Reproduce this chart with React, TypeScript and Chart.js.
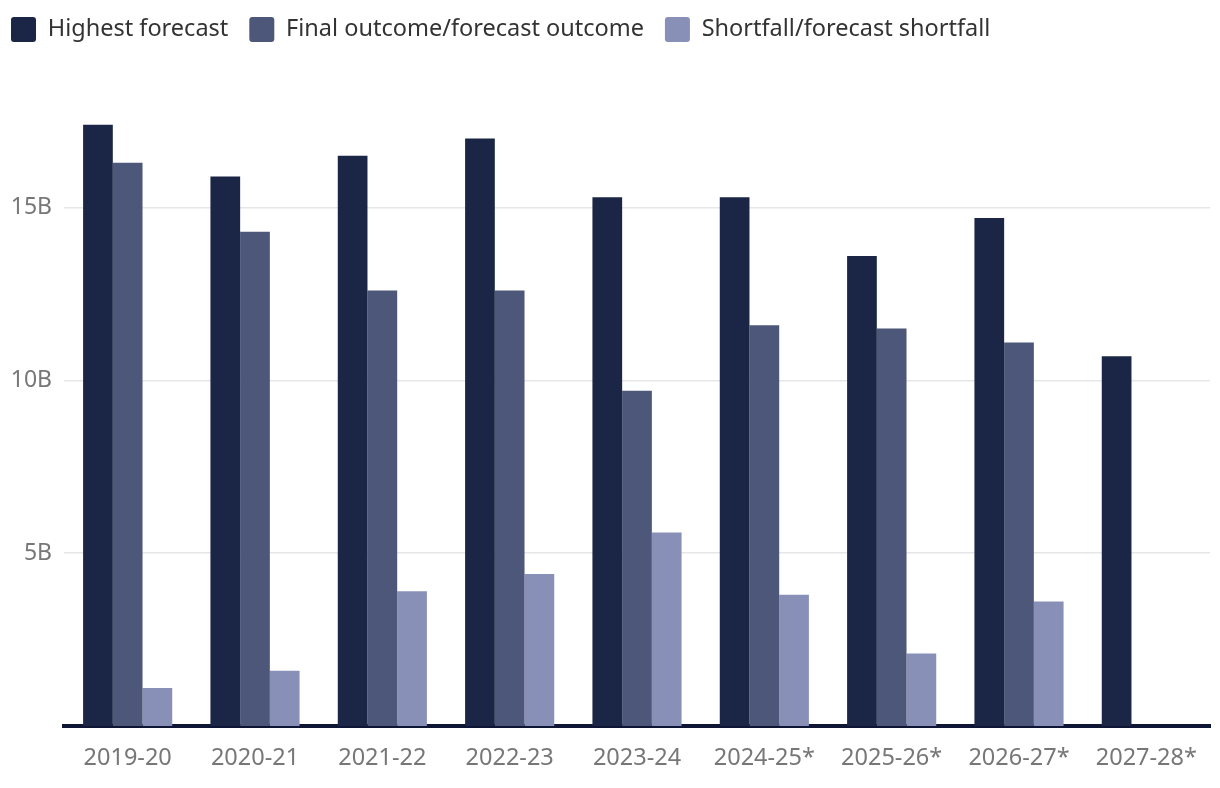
import React, { useEffect, useRef } from "react";
import { Chart, registerables } from "chart.js";

Chart.register(...registerables);

const categories = ["2019-20", "2020-21", "2021-22", "2022-23", "2023-24", "2024-25*", "2025-26*", "2026-27*", "2027-28*"];
const highestForecast = [17.4, 15.9, 16.5, 17.0, 15.3, 15.3, 13.6, 14.7, 10.7];
const finalOutcome = [16.3, 14.3, 12.6, 12.6, 9.7, 11.6, 11.5, 11.1, null];
const shortfall = [1.1, 1.6, 3.9, 4.4, 5.6, 3.8, 2.1, 3.6, null];
const yTicks = [5, 10, 15];

const FONT = "'Noto Sans', sans-serif";

export default function App() {
  const ref = useRef<HTMLCanvasElement>(null);
  useEffect(() => {
    document.body.style.margin = "0";
    const legendTweak = {
      id: "legendTweak",
      beforeInit(chart: any) {
        const lg = chart.legend;
        if (!lg) return;
        const fit = lg.fit;
        lg.fit = function () {
          fit.call(lg);
          lg.height = 104;
        };
        const draw = lg.draw;
        lg.draw = function () {
          const ctx = chart.ctx;
          ctx.save();
          ctx.translate(-10, -4);
          draw.call(lg);
          ctx.restore();
        };
      },
    };
    const chart = new Chart(ref.current!, {
      type: "bar",
      data: {
        labels: categories,
        datasets: [
          { label: "Highest forecast", data: highestForecast, backgroundColor: "#1b2646" },
          { label: "Final outcome/forecast outcome", data: finalOutcome as any, backgroundColor: "#4d5779" },
          { label: "Shortfall/forecast shortfall", data: shortfall as any, backgroundColor: "#8890b8" },
        ],
      },
      options: {
        responsive: false,
        animation: false,
        layout: { padding: { left: 0, right: 10, top: 0, bottom: 0 } },
        datasets: { bar: { categoryPercentage: 0.7, barPercentage: 1.0 } },
        plugins: {
          tooltip: { enabled: false },
          legend: {
            align: "start",
            labels: {
              boxWidth: 25,
              boxHeight: 25,
              useBorderRadius: true,
              borderRadius: 3,
              color: "#333333",
              padding: 21,
              font: { family: FONT, size: 23.5 },
            },
          },
        },
        scales: {
          x: {
            afterFit(scale: any) {
              scale.height = 62;
            },
            grid: { display: false },
            border: { display: true, color: "#0f1535", width: 4 },
            ticks: { color: "#777777", font: { family: FONT, size: 23.5 }, padding: 10, maxRotation: 0 },
          },
          y: {
            min: 0,
            max: 18,
            afterFit(scale: any) {
              scale.width = 64;
            },
            afterBuildTicks(scale: any) {
              scale.ticks = yTicks.map((v) => ({ value: v }));
            },
            grid: { color: "#e6e6e6", lineWidth: 1.5, drawTicks: false },
            border: { display: false },
            ticks: {
              color: "#777777",
              font: { family: FONT, size: 23 },
              padding: 12,
              callback: (v: any) => v + "B",
            },
          },
        },
      },
      plugins: [legendTweak],
    });
    return () => chart.destroy();
  }, []);
  return (
    <div style={{ width: 1220, height: 788 }}>
      <canvas ref={ref} width={1220} height={788} style={{ display: "block" }} />
    </div>
  );
}
